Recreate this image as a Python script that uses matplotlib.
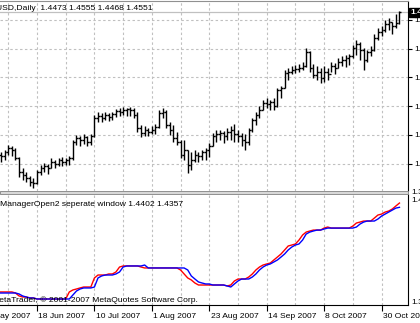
import numpy as np
import pandas as pd
import matplotlib
matplotlib.use('Agg')
import matplotlib.pyplot as plt
from matplotlib import transforms
from matplotlib.patches import Rectangle

W, H = 420, 323
dpi = 100
plt.rcParams['font.family'] = ['Liberation Sans', 'DejaVu Sans']
fs = 6.1

# daily EURUSD bars, 1 Jun 2007 .. 6 Nov 2007
dates = pd.bdate_range('2007-06-01', '2007-11-06')

opens = [1.3571, 1.3550, 1.3543, 1.3571, 1.3599, 1.3585, 1.3529, 1.3431, 1.3410, 1.3389,
         1.3361, 1.3354, 1.3431, 1.3459, 1.3473, 1.3459, 1.3501, 1.3487, 1.3515, 1.3501,
         1.3515, 1.3529, 1.3641, 1.3669, 1.3655, 1.3676, 1.3641, 1.3683, 1.3809, 1.3823,
         1.3809, 1.3830, 1.3816, 1.3837, 1.3858, 1.3851, 1.3865, 1.3872, 1.3865, 1.3830,
         1.3739, 1.3704, 1.3725, 1.3711, 1.3725, 1.3746, 1.3844, 1.3851, 1.3760, 1.3725,
         1.3669, 1.3641, 1.3550, 1.3585, 1.3480, 1.3515, 1.3550, 1.3543, 1.3571, 1.3585,
         1.3613, 1.3683, 1.3697, 1.3704, 1.3683, 1.3711, 1.3725, 1.3697, 1.3683, 1.3655,
         1.3641, 1.3725, 1.3795, 1.3830, 1.3865, 1.3914, 1.3907, 1.3921, 1.3893, 1.4005,
         1.4019, 1.4124, 1.4131, 1.4145, 1.4152, 1.4159, 1.4173, 1.4271, 1.4159, 1.4110,
         1.4131, 1.4089, 1.4131, 1.4117, 1.4173, 1.4159, 1.4201, 1.4215, 1.4229, 1.4243,
         1.4299, 1.4327, 1.4285, 1.4215, 1.4271, 1.4285, 1.4369, 1.4411, 1.4425, 1.4467,
         1.4481, 1.4453, 1.4473]
highs = [1.3585, 1.3571, 1.3585, 1.3620, 1.3613, 1.3599, 1.3536, 1.3459, 1.3431, 1.3403,
         1.3389, 1.3445, 1.3480, 1.3494, 1.3487, 1.3529, 1.3515, 1.3529, 1.3536, 1.3529,
         1.3543, 1.3655, 1.3690, 1.3683, 1.3697, 1.3683, 1.3697, 1.3830, 1.3851, 1.3844,
         1.3851, 1.3844, 1.3851, 1.3872, 1.3879, 1.3886, 1.3879, 1.3886, 1.3879, 1.3851,
         1.3760, 1.3753, 1.3739, 1.3753, 1.3767, 1.3865, 1.3879, 1.3865, 1.3781, 1.3760,
         1.3711, 1.3655, 1.3655, 1.3585, 1.3571, 1.3585, 1.3571, 1.3585, 1.3599, 1.3634,
         1.3704, 1.3725, 1.3725, 1.3718, 1.3739, 1.3753, 1.3767, 1.3725, 1.3704, 1.3697,
         1.3739, 1.3809, 1.3851, 1.3893, 1.3935, 1.3949, 1.3935, 1.3949, 1.4019, 1.4033,
         1.4145, 1.4159, 1.4173, 1.4180, 1.4187, 1.4201, 1.4299, 1.4278, 1.4187, 1.4173,
         1.4159, 1.4173, 1.4159, 1.4201, 1.4194, 1.4229, 1.4243, 1.4250, 1.4257, 1.4320,
         1.4355, 1.4341, 1.4299, 1.4285, 1.4313, 1.4397, 1.4439, 1.4453, 1.4495, 1.4509,
         1.4481, 1.4537, 1.4555]
lows = [1.3515, 1.3501, 1.3515, 1.3550, 1.3543, 1.3515, 1.3396, 1.3375, 1.3361, 1.3333,
        1.3319, 1.3347, 1.3410, 1.3431, 1.3417, 1.3459, 1.3459, 1.3473, 1.3473, 1.3480,
        1.3480, 1.3515, 1.3620, 1.3613, 1.3627, 1.3613, 1.3620, 1.3676, 1.3781, 1.3781,
        1.3795, 1.3788, 1.3795, 1.3816, 1.3823, 1.3830, 1.3823, 1.3823, 1.3809, 1.3711,
        1.3676, 1.3683, 1.3683, 1.3697, 1.3697, 1.3739, 1.3809, 1.3739, 1.3690, 1.3641,
        1.3620, 1.3529, 1.3515, 1.3424, 1.3445, 1.3501, 1.3501, 1.3515, 1.3515, 1.3536,
        1.3613, 1.3641, 1.3655, 1.3634, 1.3655, 1.3655, 1.3641, 1.3641, 1.3613, 1.3585,
        1.3620, 1.3711, 1.3760, 1.3809, 1.3865, 1.3879, 1.3865, 1.3865, 1.3886, 1.3949,
        1.4019, 1.4075, 1.4117, 1.4124, 1.4131, 1.4145, 1.4166, 1.4131, 1.4089, 1.4075,
        1.4054, 1.4061, 1.4075, 1.4131, 1.4117, 1.4159, 1.4173, 1.4166, 1.4180, 1.4229,
        1.4250, 1.4215, 1.4145, 1.4201, 1.4243, 1.4278, 1.4355, 1.4383, 1.4411, 1.4425,
        1.4397, 1.4439, 1.4468]
closes = [1.3550, 1.3543, 1.3571, 1.3599, 1.3585, 1.3529, 1.3431, 1.3410, 1.3389, 1.3361,
          1.3354, 1.3431, 1.3459, 1.3473, 1.3459, 1.3501, 1.3487, 1.3515, 1.3501, 1.3515,
          1.3529, 1.3641, 1.3669, 1.3655, 1.3676, 1.3641, 1.3683, 1.3809, 1.3823, 1.3809,
          1.3830, 1.3816, 1.3837, 1.3858, 1.3851, 1.3865, 1.3872, 1.3865, 1.3830, 1.3739,
          1.3704, 1.3725, 1.3711, 1.3725, 1.3746, 1.3844, 1.3851, 1.3760, 1.3725, 1.3669,
          1.3641, 1.3550, 1.3585, 1.3480, 1.3515, 1.3550, 1.3543, 1.3571, 1.3585, 1.3613,
          1.3683, 1.3697, 1.3704, 1.3683, 1.3711, 1.3725, 1.3697, 1.3683, 1.3655, 1.3641,
          1.3725, 1.3795, 1.3830, 1.3865, 1.3914, 1.3907, 1.3921, 1.3893, 1.4005, 1.4019,
          1.4124, 1.4131, 1.4145, 1.4152, 1.4159, 1.4173, 1.4271, 1.4159, 1.4110, 1.4131,
          1.4089, 1.4131, 1.4117, 1.4173, 1.4159, 1.4201, 1.4215, 1.4229, 1.4243, 1.4299,
          1.4327, 1.4285, 1.4215, 1.4271, 1.4285, 1.4369, 1.4411, 1.4425, 1.4467, 1.4481,
          1.4453, 1.4473, 1.4551]

# TrendManagerOpen2 buffers
tm_red = [1.3468, 1.3468, 1.3468, 1.3468, 1.3468, 1.3457, 1.3426, 1.3415, 1.3415, 1.3405,
          1.3405, 1.3394, 1.3394, 1.3394, 1.3394, 1.3394, 1.3394, 1.3394, 1.3394, 1.3394,
          1.3468, 1.3489, 1.3499, 1.3510, 1.3520, 1.3520, 1.3520, 1.3615, 1.3646, 1.3646,
          1.3646, 1.3657, 1.3657, 1.3678, 1.3730, 1.3741, 1.3741, 1.3741, 1.3741, 1.3741,
          1.3730, 1.3720, 1.3720, 1.3720, 1.3720, 1.3720, 1.3720, 1.3720, 1.3720, 1.3720,
          1.3720, 1.3699, 1.3657, 1.3615, 1.3594, 1.3562, 1.3541, 1.3541, 1.3541, 1.3541,
          1.3541, 1.3541, 1.3541, 1.3541, 1.3531, 1.3541, 1.3583, 1.3604, 1.3604, 1.3604,
          1.3625, 1.3657, 1.3699, 1.3730, 1.3751, 1.3762, 1.3772, 1.3804, 1.3835, 1.3867,
          1.3909, 1.3951, 1.3961, 1.3972, 1.4013, 1.4066, 1.4097, 1.4108, 1.4118, 1.4118,
          1.4118, 1.4139, 1.4150, 1.4139, 1.4139, 1.4139, 1.4139, 1.4139, 1.4139, 1.4160,
          1.4192, 1.4202, 1.4213, 1.4213, 1.4213, 1.4244, 1.4276, 1.4286, 1.4307, 1.4318,
          1.4339, 1.4371, 1.4402]
tm_blue = [1.3457, 1.3457, 1.3457, 1.3457, 1.3457, 1.3457, 1.3447, 1.3426, 1.3415, 1.3405,
           1.3405, 1.3394, 1.3394, 1.3394, 1.3394, 1.3394, 1.3394, 1.3394, 1.3394, 1.3394,
           1.3394, 1.3436, 1.3478, 1.3499, 1.3510, 1.3510, 1.3510, 1.3520, 1.3615, 1.3636,
           1.3646, 1.3646, 1.3646, 1.3657, 1.3678, 1.3730, 1.3741, 1.3741, 1.3741, 1.3741,
           1.3741, 1.3751, 1.3720, 1.3720, 1.3720, 1.3720, 1.3720, 1.3720, 1.3720, 1.3720,
           1.3720, 1.3720, 1.3720, 1.3699, 1.3636, 1.3604, 1.3573, 1.3562, 1.3552, 1.3552,
           1.3541, 1.3541, 1.3541, 1.3541, 1.3531, 1.3520, 1.3552, 1.3583, 1.3604, 1.3604,
           1.3604, 1.3625, 1.3657, 1.3699, 1.3730, 1.3751, 1.3762, 1.3783, 1.3804, 1.3835,
           1.3867, 1.3909, 1.3940, 1.3961, 1.3972, 1.4013, 1.4076, 1.4097, 1.4108, 1.4118,
           1.4118, 1.4129, 1.4139, 1.4139, 1.4139, 1.4139, 1.4139, 1.4139, 1.4139, 1.4139,
           1.4150, 1.4181, 1.4202, 1.4213, 1.4213, 1.4213, 1.4234, 1.4265, 1.4286, 1.4307,
           1.4328, 1.4349, 1.4357]

date_labels = ['25 May 2007', '18 Jun 2007', '10 Jul 2007', '1 Aug 2007',
               '23 Aug 2007', '14 Sep 2007', '8 Oct 2007', '30 Oct 2007']

x = np.arange(len(dates))
label_pos = np.arange(-5, len(dates), 16)
grid_pos = np.arange(3, 116, 8)
price_levels = 1.4495 - 0.0201 * np.arange(6)
xlim = (0.69, 114.38)

fig = plt.figure(figsize=(W / dpi, H / dpi), dpi=dpi)


def px_axes(x0, y0, x1, y1):
    return fig.add_axes([x0 / W, 1 - y1 / H, (x1 - x0) / W, (y1 - y0) / H])


def fig_x(px):
    return px / W


def fig_y(py):
    return 1 - py / H


ax = px_axes(0, 1, 408, 191)
ax2 = px_axes(0, 194, 408, 305)

grid_kw = dict(color='#c0c0c0', lw=0.8, linestyle=(0, (2.2, 2.2)), zorder=0)

# main window: OHLC bars
for g in grid_pos:
    ax.axvline(g, **grid_kw)
for p in price_levels:
    ax.axhline(p, **grid_kw)
ax.axhline(closes[-1], color='#c0c0c0', lw=0.9, zorder=1)
ax.vlines(x, lows, highs, color='black', lw=1.0, zorder=3)
ax.hlines(opens, x - 0.5, x, color='black', lw=1.0, zorder=3)
ax.hlines(closes, x, x + 0.5, color='black', lw=1.0, zorder=3)

ax.yaxis.tick_right()
ax.set_yticks(price_levels)
ax.set_yticklabels(['%.4f' % p for p in price_levels])
ax.tick_params(axis='y', length=3, pad=1.5, labelsize=fs, width=0.8)
ax.set_xticks([])
ax.set_xlim(*xlim)
ax.set_ylim(1.3298, 1.4628)
for s in ['left', 'bottom']:
    ax.spines[s].set_visible(False)
ax.spines['top'].set_color('#909090')
ax.spines['right'].set_color('black')

fig.text(fig_x(153), fig_y(8),
         'EURUSD,Daily  %.4f %.4f %.4f %.4f' % (opens[-1], highs[-1], lows[-1], closes[-1]),
         fontsize=fs, va='center', ha='right')

# separate window: TrendManagerOpen2
for g in grid_pos:
    ax2.axvline(g, **grid_kw)
ax2.plot(x, tm_blue, color='#0000ff', lw=1.0, zorder=3)
ax2.plot(x, tm_red, color='#ff0000', lw=1.0, zorder=2)
ax2.set_yticks([])
ax2.set_xticks(label_pos)
ax2.set_xticklabels([])
ax2.tick_params(axis='x', length=4, width=0.8, color='black')
ax2.set_xlim(*xlim)
ax2.set_ylim(1.3331, 1.4497)
for s in ['left', 'top']:
    ax2.spines[s].set_visible(False)
ax2.spines['right'].set_color('black')
ax2.spines['bottom'].set_color('black')

fig.text(fig_x(183), fig_y(205),
         'TrendManagerOpen2 seperate window %.4f %.4f' % (tm_red[-1], tm_blue[-1]),
         fontsize=fs, va='center', ha='right')
fig.text(fig_x(198), fig_y(300), 'MetaTrader, \u00a9 2001-2007 MetaQuotes Software Corp.',
         fontsize=fs, va='center', ha='right')

# pane separator
fig.patches.append(Rectangle((0, fig_y(194)), 408 / W, 3 / H, transform=fig.transFigure,
                             facecolor='#d8d8d8', edgecolor='#909090', lw=0.7))

# date axis
blend = transforms.blended_transform_factory(ax2.transData, fig.transFigure)
for pos, lab in zip(label_pos, date_labels):
    ax2.text(pos + 0.35, fig_y(316), lab, transform=blend, fontsize=fs,
             va='center', ha='left', clip_on=False)

# price scale extras
fig.text(fig_x(411), fig_y(193), '%.4f' % 1.3289, fontsize=fs, va='center', ha='left')
fig.text(fig_x(411), fig_y(201), '%.4f' % 1.4497, fontsize=fs, va='center', ha='left')
fig.text(fig_x(411), fig_y(302), '%.4f' % 1.3331, fontsize=fs, va='center', ha='left')
fig.text(fig_x(410.5), fig_y(12.5), '%.4f' % closes[-1], fontsize=fs, va='center', ha='left',
         color='white', fontweight='bold',
         bbox=dict(boxstyle='square,pad=0.15', facecolor='black', edgecolor='black'))

fig.savefig('out.png', dpi=dpi)
